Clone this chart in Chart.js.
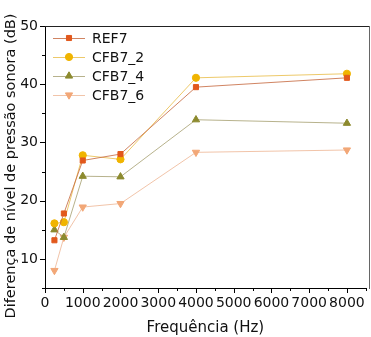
<!DOCTYPE html>
<html>
<head>
<meta charset="utf-8">
<script src="https://cdn.jsdelivr.net/npm/chart.js@4.4.1/dist/chart.umd.min.js"></script>
<style>
  html, body { margin: 0; padding: 0; background: #fff; }
  #wrap { width: 371px; height: 337px; }
</style>
</head>
<body>
<div id="wrap"><canvas id="chart" width="371" height="337"></canvas></div>
<script>
const freqs = [250, 500, 1000, 2000, 4000, 8000];
const ref7 = [13.2, 17.8, 26.9, 28.0, 39.5, 41.1];
const cfb7_2 = [16.1, 16.3, 27.8, 27.1, 41.1, 41.8];
const cfb7_4 = [15.0, 13.7, 24.2, 24.1, 33.9, 33.3];
const cfb7_6 = [8.0, 13.7, 18.9, 19.5, 28.3, 28.7];
const xTicks = [0, 1000, 2000, 3000, 4000, 5000, 6000, 7000, 8000];
const yTicks = [10, 20, 30, 40, 50];
const yTitle = 'Diferença de nível de pressão sonora (dB)';

const FONT = 'DejaVu Sans';

function series(label, values, color, lineColor, style, rotation) {
  return {
    label,
    data: freqs.map((f, i) => ({ x: f, y: values[i] })),
    borderColor: lineColor,
    backgroundColor: color,
    pointBorderColor: color,
    pointBackgroundColor: color,
    pointStyle: style,
    pointRotation: rotation || 0,
    pointRadius: style === 'triangle' ? 4.2 : 3.6,
    borderWidth: 1,
    showLine: true,
    tension: 0
  };
}

const datasets = [
  series('REF7', ref7, '#e2581c', 'rgba(200,110,70,0.85)', 'rect'),
  series('CFB7_2', cfb7_2, '#f0b400', 'rgba(235,195,90,0.9)', 'circle'),
  series('CFB7_4', cfb7_4, '#8c8a2e', 'rgba(170,165,120,0.85)', 'triangle'),
  series('CFB7_6', cfb7_6, '#f2a777', 'rgba(240,190,160,0.9)', 'triangle', 180)
];

// legend inside the plot, line through marker
const legendInside = {
  id: 'legendInside',
  afterDraw(chart) {
    const ctx = chart.ctx;
    const x0 = 53, x1 = 85;
    let y = 38;
    ctx.save();
    chart.data.datasets.forEach(ds => {
      ctx.strokeStyle = ds.borderColor;
      ctx.lineWidth = 1;
      ctx.beginPath();
      ctx.moveTo(x0, y + 0.5);
      ctx.lineTo(x1, y + 0.5);
      ctx.stroke();
      ctx.fillStyle = ds.pointBackgroundColor;
      ctx.strokeStyle = ds.pointBorderColor;
      Chart.helpers.drawPoint(ctx, {
        pointStyle: ds.pointStyle,
        rotation: ds.pointRotation,
        radius: ds.pointRadius,
        borderWidth: 1
      }, (x0 + x1) / 2, y);
      ctx.fillStyle = '#111';
      ctx.font = '14px ' + FONT;
      ctx.textAlign = 'left';
      ctx.textBaseline = 'middle';
      ctx.fillText(ds.label, 92, y + 1);
      y += 19;
    });

    // y title, centred a bit lower than the plot like the original
    ctx.translate(11, 166);
    ctx.rotate(-Math.PI / 2);
    ctx.font = '14.5px ' + FONT;
    ctx.textAlign = 'center';
    ctx.textBaseline = 'middle';
    ctx.fillText(yTitle, 0, 0);
    ctx.restore();
  }
};

// outward major + minor ticks, plus top/right frame
const ticksOut = {
  id: 'ticksOut',
  afterDraw(chart) {
    const ctx = chart.ctx;
    const xs = chart.scales.x, ys = chart.scales.y;
    const a = chart.chartArea;
    ctx.save();
    ctx.strokeStyle = '#000';
    ctx.lineWidth = 1;
    ctx.beginPath();
    for (let v = 0; v <= 8500; v += 500) {
      const px = Math.round(xs.getPixelForValue(v)) + 0.5;
      const len = v % 1000 === 0 ? 5 : 3;
      ctx.moveTo(px, a.bottom);
      ctx.lineTo(px, a.bottom + len);
    }
    for (let v = 5; v <= 50; v += 5) {
      const py = Math.round(ys.getPixelForValue(v)) + 0.5;
      const len = v % 10 === 0 ? 5 : 3;
      ctx.moveTo(a.left, py);
      ctx.lineTo(a.left - len, py);
    }
    ctx.stroke();
    ctx.fillStyle = '#222';
    ctx.fillRect(Math.round(a.left), Math.round(a.top), 369 - Math.round(a.left), 1);
    ctx.fillStyle = '#666';
    ctx.fillRect(369, Math.round(a.top), 1, Math.round(a.bottom - a.top) + 1);
    ctx.restore();
  }
};

new Chart(document.getElementById('chart'), {
  type: 'scatter',
  data: { datasets },
  plugins: [legendInside, ticksOut],
  options: {
    responsive: false,
    animation: false,
    layout: { padding: { left: 0, right: -4, top: 26, bottom: 0 } },
    plugins: {
      legend: { display: false },
      tooltip: { enabled: false }
    },
    scales: {
      x: {
        type: 'linear',
        min: 0,
        max: 8500,
        afterBuildTicks: s => { s.ticks = xTicks.map(v => ({ value: v })); },
        afterFit: s => { s.height = 49; s.paddingRight = 0; s.paddingLeft = 0; },
        grid: { display: false, drawTicks: false },
        border: { display: true, color: '#000', width: 1 },
        ticks: {
          color: '#111',
          font: { family: FONT, size: 14 },
          padding: 7,
          maxRotation: 0,
          autoSkip: false,
          callback: v => String(v)
        },
        title: {
          display: true,
          text: 'Frequência (Hz)',
          color: '#111',
          font: { family: FONT, size: 15 },
          padding: { top: 4, bottom: 0 }
        }
      },
      y: {
        type: 'linear',
        min: 5,
        max: 50,
        afterBuildTicks: s => { s.ticks = yTicks.map(v => ({ value: v })); },
        afterFit: s => { s.width = 45; s.paddingTop = 0; s.paddingBottom = 0; },
        grid: { display: false, drawTicks: false },
        border: { display: true, color: '#000', width: 1 },
        ticks: {
          color: '#111',
          font: { family: FONT, size: 14 },
          padding: 7,
          callback: v => String(v)
        },
        title: { display: false }
      }
    }
  }
});
</script>
</body>
</html>
